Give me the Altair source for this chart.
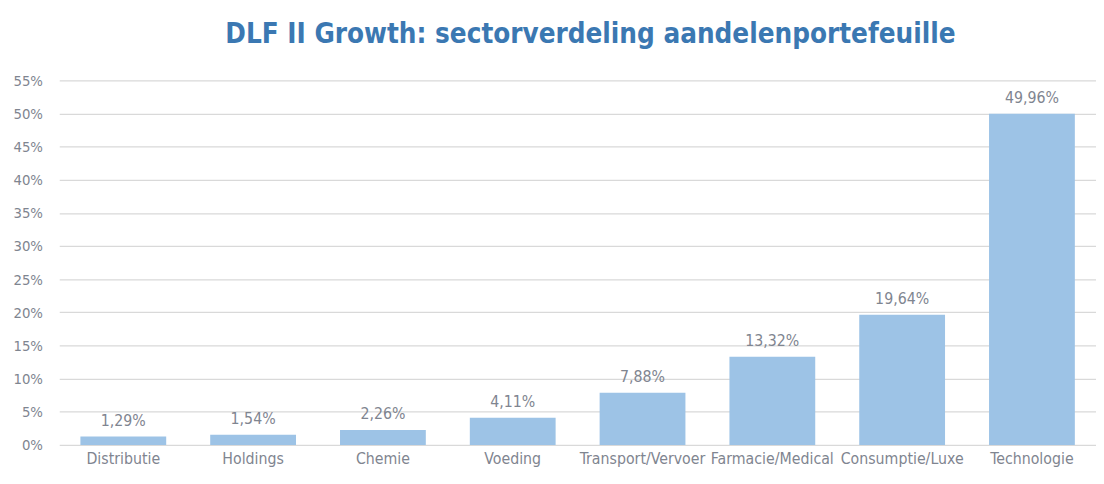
import altair as alt
import pandas as pd

categories = ["Distributie", "Holdings", "Chemie", "Voeding", "Transport/Vervoer",
              "Farmacie/Medical", "Consumptie/Luxe", "Technologie"]
values = [1.29, 1.54, 2.26, 4.11, 7.88, 13.32, 19.64, 49.96]
y_ticks = [0, 5, 10, 15, 20, 25, 30, 35, 40, 45, 50, 55]

df = pd.DataFrame({"sector": categories, "pct": values})
df["label"] = [f"{v:.2f}%".replace(".", ",") for v in values]

FONT = "Liberation Sans Narrow, DejaVu Sans Condensed, sans-serif"
GRAY = "#7f8590"

base = alt.Chart(df).encode(
    x=alt.X("sector:N", sort=categories, title=None,
            scale=alt.Scale(paddingInner=0.339, paddingOuter=0.163, range=[0, 1052]),
            axis=alt.Axis(labelAngle=0, labelFont=FONT, labelFontSize=16,
                          labelColor=GRAY, domain=False, ticks=False,
                          labelPadding=6, grid=False)),
    y=alt.Y("pct:Q", title=None,
            scale=alt.Scale(domain=[0, 55], nice=False),
            axis=alt.Axis(values=y_ticks, labelExpr="datum.value + '%'",
                          labelFont=FONT, labelFontSize=15, labelColor=GRAY,
                          domain=False, ticks=False, labelPadding=17,
                          labelOverlap=False,
                          gridColor="#d9d9d9", gridWidth=1.2)),
)

bars = base.mark_bar(color="#9dc3e6")

text = base.mark_text(baseline="bottom", dy=-8, font=FONT, fontSize=16, color=GRAY).encode(
    text="label:N",
)

chart = (bars + text).properties(
    width=1034, height=462,
    autosize=alt.AutoSizeParams(type="fit-y", contains="padding"),
    title=alt.TitleParams("DLF II Growth: sectorverdeling aandelenportefeuille",
                          font=FONT, fontSize=28, fontWeight="bold",
                          color="#3b78b2", anchor="middle", offset=25, dx=22),
    padding={"left": 5, "top": 10, "right": 0, "bottom": 0},
).configure_view(stroke=None)

chart.save("out.html", embed_options={"renderer": "svg", "actions": False})
